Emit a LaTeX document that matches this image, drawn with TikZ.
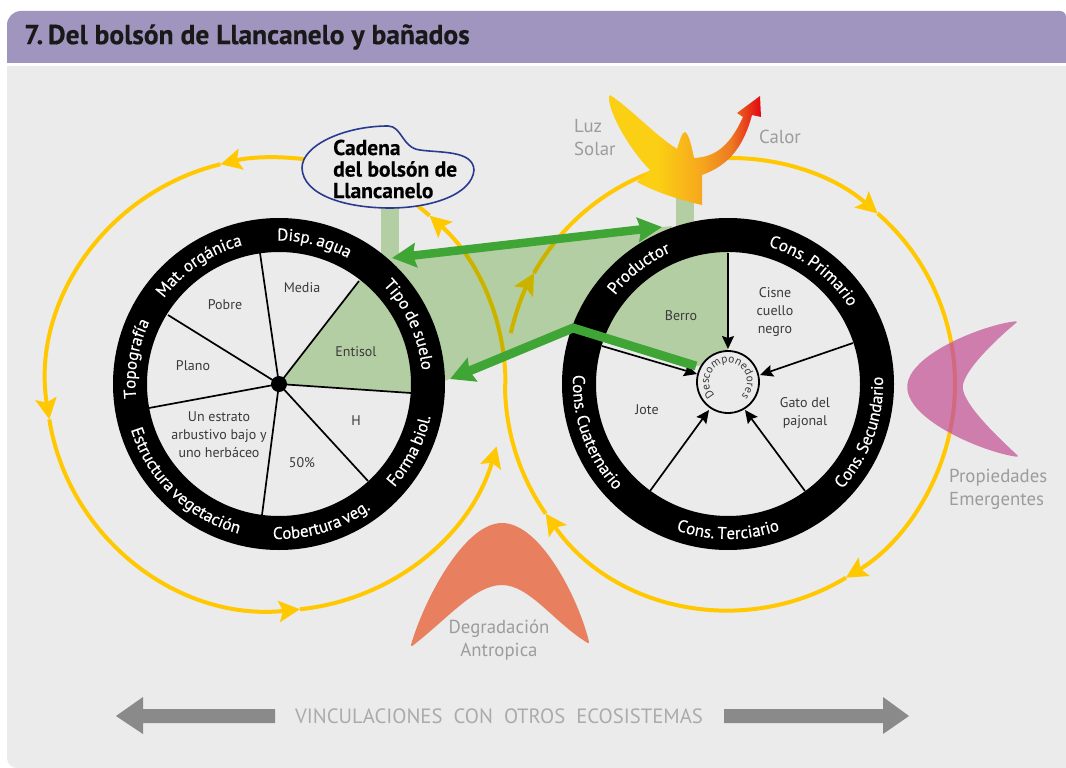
\documentclass[tikz,border=0pt]{standalone}
\usepackage{fontspec}
\setmainfont{PT Sans}
\newfontfamily\ringfam[WordSpace=0.7,FakeBold=0.4]{PT Sans}
\usetikzlibrary{arrows.meta,decorations.text}
\definecolor{bgc}{HTML}{EBEBEB}
\definecolor{headc}{HTML}{9F95BE}
\definecolor{yellowc}{HTML}{FFC800}
\definecolor{olivec}{HTML}{C8B400}
\definecolor{pinkc}{HTML}{CE7DAC}
\definecolor{pinkyc}{HTML}{D3697F}
\definecolor{orangec}{HTML}{E87F5F}
\definecolor{lgreen}{HTML}{B4CEA4}
\definecolor{dgreen}{HTML}{3FA535}
\definecolor{greyt}{HTML}{9C9C9C}
\definecolor{inkc}{HTML}{3A3A3A}
\definecolor{arrc}{HTML}{8A8A8A}
\definecolor{blobc}{HTML}{2A3B8F}
\definecolor{s1}{HTML}{FBCF14}
\definecolor{s2}{HTML}{F6A81C}
\definecolor{s3}{HTML}{ED7B22}
\definecolor{s4}{HTML}{E30613}
\pgfdeclarehorizontalshading{sunshade}{100bp}{color(0bp)=(s1);color(41bp)=(s1);color(55bp)=(s2);color(65bp)=(s3);color(75bp)=(s4);color(100bp)=(s4)}
\newcommand\ringfont{\ringfam\fontsize{17}{17}\selectfont\color{white}}
\newcommand\descfont{\fontsize{11.5}{11.5}\selectfont\color{inkc}}
\newcommand\ringtext[6]{\path[decorate,decoration={text along path,text align=center,text={|\ringfont|#6}}] ([shift={(#4:#3)}]#1,#2) arc[start angle=#4,end angle=#5,radius=#3];}
\newcommand\larc[3]{\draw[#3] ([shift={(#1:229.5 and 226.5)}]276,-384) arc[start angle=#1,end angle=#2,x radius=229.5,y radius=226.5];}
\newcommand\rarc[3]{\draw[#3] ([shift={(#1:225 and 226)}]730,-384) arc[start angle=#1,end angle=#2,x radius=225,y radius=226];}
\newcommand\yellowarcs{%
  \larc{80}{104}{yt}\larc{104}{189}{yt}\larc{189}{276}{yt}\larc{276}{344}{yt}
  \larc{0}{48}{yt}\larc{48}{62}{yl}
  \rarc{95}{49}{yt}\rarc{49}{-59}{yt}\rarc{-59}{-145}{yt}\rarc{-145}{-180}{yl}
  \rarc{167}{150.6}{yt}\rarc{150.6}{108}{yl}}
\newcommand\greenpoly{(385,-258)--(672,-226)--(640,-300)--(575,-323)--(445,-381)--(420,-310)--cycle}
\newcommand\pinkpath{(1016,-322) .. controls (985,-325) and (908,-355) .. (908,-387) .. controls (908,-420) and (985,-452) .. (1017,-456) .. controls (1000,-440) and (962,-405) .. (962,-387) .. controls (962,-370) and (1000,-335) .. (1016,-322) -- cycle}
\tikzset{
  yl/.style={draw=ycol,line width=4pt},
  yt/.style={yl,-{Stealth[length=21pt,width=21pt,inset=4pt]}},
  lab/.style={font=\fontsize{14}{18}\selectfont,text=inkc,align=center,inner sep=0pt},
  grey/.style={font=\fontsize{18.8}{23}\selectfont,text=greyt,inner sep=0pt},
  spoke/.style={draw=black,line width=1.7pt},
  spokea/.style={spoke,-{Stealth[length=13pt,width=12pt,inset=2pt]}},
  garrow/.style={draw=dgreen,line width=8.5pt},
}
\begin{document}
\begin{tikzpicture}[x=1pt,y=1pt]
\useasboundingbox (0,0) rectangle (1066,-768);
\fill[white] (0,0) rectangle (1066,-768);
% panel and header
\fill[bgc] (7,-66) -- (1066,-66) -- (1066,-768) -- (17,-768) arc[start angle=270,end angle=180,radius=10] -- cycle;
\fill[headc] (7,-63) -- (7,-25) arc[start angle=180,end angle=90,radius=14] -- (1060,-11) arc[start angle=90,end angle=0,radius=6] -- (1066,-63) -- cycle;
\node[anchor=west,inner sep=0pt,font=\fontsize{27.5}{27.5}\selectfont\bfseries\addfontfeature{FakeBold=0.4},text=black!90] (title) at (24,-37) {7.\,Del bolsón de Llancanelo y bañados};
% green links
\fill[lgreen] \greenpoly;
\fill[lgreen] (381,-205) rectangle (399,-260);
\fill[lgreen] (676,-195) rectangle (694,-230);
% yellow loops
\colorlet{ycol}{yellowc}
\yellowarcs
\begin{scope}
  \clip \greenpoly;
  \colorlet{ycol}{olivec}
  \yellowarcs
\end{scope}
% crescents
\fill[orangec,draw=orangec,line width=2pt,line join=round] (412,-645) .. controls (425,-600) and (465,-524) .. (502,-524) .. controls (540,-524) and (578,-600) .. (588,-642) .. controls (555,-622) and (530,-584) .. (502,-584) .. controls (475,-584) and (450,-615) .. (412,-645) -- cycle;
\fill[pinkc,draw=pinkc,line width=1.5pt,line join=round] \pinkpath;
\begin{scope}
  \clip \pinkpath;
  \colorlet{ycol}{pinkyc}
  \rarc{49}{-59}{yl}
\end{scope}
% sun
\shade[shading=sunshade] (610,-95) .. controls (630,-108) and (655,-135) .. (677,-149)
  .. controls (680,-140) and (682,-132) .. (685,-132)
  .. controls (689,-134) and (692,-148) .. (694,-158)
  .. controls (712,-157) and (728,-150) .. (743,-117)
  -- (737,-113) -- (760,-96) -- (761,-117) -- (752,-115)
  .. controls (744,-145) and (730,-165) .. (702,-175)
  -- (702,-205)
  .. controls (680,-200) and (655,-192) .. (637,-182)
  -- (650,-170)
  .. controls (630,-150) and (610,-115) .. (609,-99) -- cycle;
% blob
\draw[fill=bgc,draw=blobc,line width=1.6pt] (302,-168) .. controls (302,-145) and (345,-126) .. (388,-126) .. controls (402,-126) and (402,-148) .. (420,-150) .. controls (440,-153) and (473,-150) .. (474,-170) .. controls (472,-195) and (430,-208) .. (390,-208) .. controls (345,-208) and (303,-195) .. (302,-168) -- cycle;
\node[anchor=west,inner sep=0pt,align=left,font=\fontsize{21.5}{21.5}\selectfont\bfseries\addfontfeature{FakeBold=0.3},text=black] (cadena) at (333,-169) {Cadena\\del bolsón de\\Llancanelo};
% left wheel
\coordinate (LC) at (279,-384);
\fill[bgc] (LC) circle[radius=149];
\fill[lgreen] (LC) -- (367,-271) -- (400,-320) -- (420,-393) -- cycle;
\coordinate (L1) at (359,-281);
\coordinate (L2) at (411,-393);
\coordinate (L3) at (368,-481);
\coordinate (L4) at (262,-515);
\coordinate (L5) at (149,-408);
\coordinate (L6) at (168,-315);
\coordinate (L7) at (260,-253);
\foreach \e in {L1,L2,L3,L4,L5,L6,L7} \draw[spoke] (LC) -- (\e);
\fill[black] (LC) circle[radius=8];
\draw[black,line width=34pt] (LC) circle[radius=149];
\ringtext{279}{-384}{143.5}{136}{16}{Disp. agua}
\ringtext{279}{-384}{143.5}{85}{-36}{Tipo de suelo}
\ringtext{279}{-384}{155}{-87}{33}{Forma biol.}
\ringtext{279}{-384}{155}{-133}{-13}{Cobertura veg.}
\ringtext{279}{-384}{155}{-204}{-64}{Estructura vegetación}
\ringtext{279}{-384}{143.5}{230}{110}{Topografía}
\ringtext{279}{-384}{143.5}{184}{64}{Mat. orgánica}
% right wheel
\coordinate (RC) at (728,-384);
\coordinate (DC) at (728,-382);
\fill[bgc] (RC) circle[radius=149];
\fill[lgreen] (728,-240) -- (640,-260) -- (595,-335) -- (697,-366) -- (728,-360) -- cycle;
\coordinate (R1) at (728,-253);
\coordinate (R1e) at (728,-349);
\coordinate (R2) at (853,-343);
\coordinate (R2e) at (760,-375);
\coordinate (R3) at (805,-491);
\coordinate (R3e) at (745,-410);
\coordinate (R4) at (650,-491);
\coordinate (R4e) at (709,-410);
\coordinate (R5) at (602,-346);
\coordinate (R5e) at (697,-374);
\draw[spokea] (R1) -- (R1e);
\draw[spokea] (R2) -- (R2e);
\draw[spokea] (R3) -- (R3e);
\draw[spokea] (R4) -- (R4e);
\draw[spokea] (R5) -- (R5e);
\draw[black,line width=34pt] (RC) circle[radius=149];
\ringtext{728}{-384}{143.5}{187.7}{67.7}{Productor}
\ringtext{728}{-384}{143.5}{113}{-7}{Cons. Primario}
\ringtext{728}{-384}{155}{-80}{40}{Cons. Secundario}
\ringtext{728}{-384}{155}{-150}{-30}{Cons. Terciario}
\ringtext{728}{-384}{155}{-220}{-100}{Cons. Cuaternario}
% green arrows
\coordinate (G1) at (392,-258);
\coordinate (G2) at (662,-227);
\coordinate (G3) at (696,-366);
\coordinate (G4) at (573,-328);
\coordinate (G5) at (450,-379);
\draw[garrow,{Stealth[length=24pt,width=24pt,inset=3pt]}-{Stealth[length=24pt,width=24pt,inset=3pt]}] (G1) -- (G2);
\draw[garrow,line width=9pt,-{Stealth[length=24pt,width=25pt,inset=3pt]}] (G3) -- (G4) -- (G5);
% descomponedores
\draw[fill=bgc,draw=black,line width=1.8pt] (DC) circle[radius=31];
\path[decorate,decoration={text along path,text align=center,text={|\descfont|Descomponedores}}] ([shift={(232:19)}]DC) arc[start angle=232,end angle=-52,radius=19];
% labels
\node[lab] (media) at (302,-288) {Media};
\node[lab] (pobre) at (225,-305) {Pobre};
\node[lab] (plano) at (193,-366) {Plano};
\node[lab] (entisol) at (356,-352) {Entisol};
\node[lab] (h) at (356,-421) {H};
\node[lab] (cin) at (302,-463) {50\%};
\node[lab] (estrato) at (219,-435) {Un estrato\\arbustivo bajo y\\uno herbáceo};
\node[lab] (berro) at (681,-316) {Berro};
\node[lab] (cisne) at (775,-312) {Cisne\\cuello\\negro};
\node[lab] (gato) at (805,-413) {Gato del\\pajonal};
\node[lab] (jote) at (647,-410) {Jote};
\node[grey,align=left,anchor=west] (luz) at (574,-138) {Luz\\Solar};
\node[grey] (calor) at (780,-137) {Calor};
\node[grey,align=left,anchor=west] (prop) at (949,-489) {Propiedades\\Emergentes};
\node[grey,align=center] (deg) at (499,-640) {Degradación\\Antropica};
% bottom arrows
\fill[arrc] (116,-716) -- (143,-697) -- (143,-709) -- (275,-709) -- (275,-723) -- (143,-723) -- (143,-734) -- cycle;
\fill[arrc] (909,-716) -- (883,-697) -- (883,-709) -- (724,-709) -- (724,-723) -- (883,-723) -- (883,-734) -- cycle;
\node[inner sep=0pt,font=\fontsize{20.7}{20.7}\selectfont,text=greyt!85] (vinc) at (499,-716) {VINCULACIONES\ \ CON\ \ OTROS\ \ ECOSISTEMAS};
\end{tikzpicture}
\end{document}
